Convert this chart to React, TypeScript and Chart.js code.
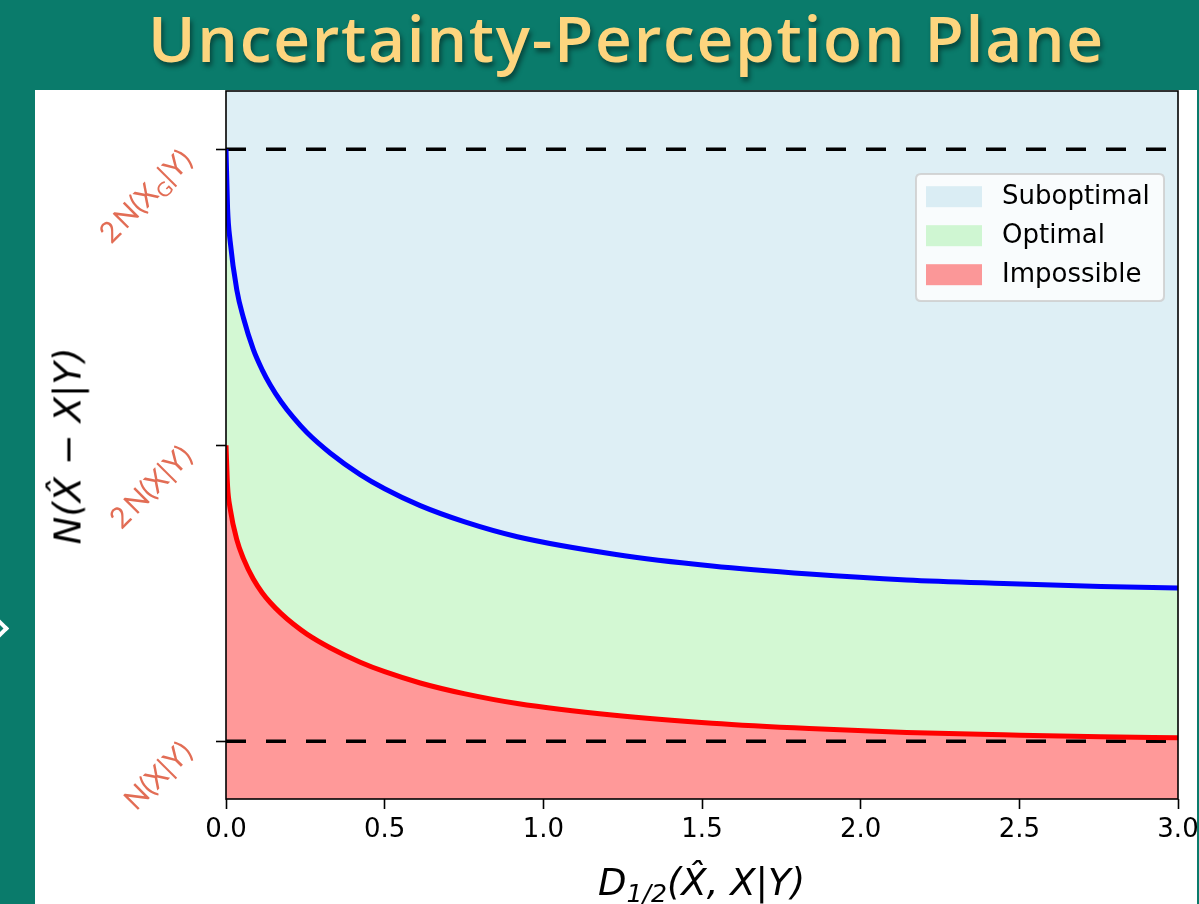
import React, { useEffect, useRef } from 'react';
import { Chart, registerables } from 'chart.js';

Chart.register(...registerables);

// ---- data ----
const xValues = [0, 0.005, 0.013, 0.034, 0.055, 0.086, 0.114, 0.14, 0.173, 0.212, 0.255, 0.328, 0.423, 0.5, 0.612, 0.75, 0.918, 1.224, 1.532, 1.838, 2.145, 2.45, 2.757, 3.0];
const optimalBoundary = [3.0, 2.8, 2.69, 2.525, 2.43, 2.324, 2.255, 2.203, 2.148, 2.094, 2.043, 1.974, 1.901, 1.853, 1.796, 1.742, 1.691, 1.632, 1.592, 1.565, 1.545, 1.533, 1.523, 1.518];
const impossibleBoundary = [2.0, 1.861, 1.787, 1.681, 1.617, 1.548, 1.502, 1.468, 1.432, 1.396, 1.362, 1.316, 1.267, 1.235, 1.197, 1.161, 1.1275, 1.088, 1.061, 1.043, 1.03, 1.022, 1.015, 1.012];
const dashedLevels = [3, 1];
const dashedSpan = [0, 3];

const xTickValues = [0, 0.5, 1, 1.5, 2, 2.5, 3];
const xTickLabels = ['0.0', '0.5', '1.0', '1.5', '2.0', '2.5', '3.0'];
const yTickValues = [1, 2, 3];
const yTickLabels = [
  [{ t: 'N(X|Y)' }],
  [{ t: '2\u2009N(X|Y)' }],
  [{ t: '2\u2009N(X' }, { t: 'G', sub: true }, { t: '|Y)' }],
];

const legendLabels = ['Suboptimal', 'Optimal', 'Impossible'];
const legendSwatches = ['rgba(173,216,230,0.4)', 'rgba(144,238,144,0.4)', 'rgba(255,0,0,0.4)'];

const TEAL = '#0a7b6b';

const decorPlugin = {
  id: 'decor',
  afterDatasetsDraw(chart: any) {
    const { ctx, chartArea: a, scales } = chart;
    ctx.save();
    // frame
    ctx.strokeStyle = '#000';
    ctx.lineWidth = 1.6;
    ctx.strokeRect(a.left, a.top, a.right - a.left, a.bottom - a.top);

    // rotated y tick labels
    const size = 29;
    const main = `400 ${size}px Lato, "DejaVu Sans", sans-serif`;
    const sub = `400 ${Math.round(size * 0.7)}px Lato, "DejaVu Sans", sans-serif`;
    ctx.fillStyle = '#e26d55';
    ctx.textBaseline = 'alphabetic';
    ctx.textAlign = 'left';
    yTickValues.forEach((v, i) => {
      const parts = yTickLabels[i];
      const widths = parts.map((p: any) => {
        ctx.font = p.sub ? sub : main;
        return ctx.measureText(p.t).width;
      });
      const W = widths.reduce((s: number, w: number) => s + w, 0);
      const asc = size * 0.76;
      const desc = size * 0.2;
      const R = a.left - 28;
      const T = scales.y.getPixelForValue(v) - 3;
      const ex = R - 0.7071 * desc;
      const ey = T + 0.7071 * asc;
      ctx.save();
      ctx.translate(ex, ey);
      ctx.rotate(-Math.PI / 4);
      let x = -W;
      parts.forEach((p: any, k: number) => {
        ctx.font = p.sub ? sub : main;
        ctx.fillText(p.t, x, p.sub ? size * 0.2 : 0);
        x += widths[k];
      });
      ctx.restore();
    });

    // legend
    const bw = 248, bh = 127;
    const bx = a.right - 14 - bw;
    const by = a.top + 83;
    const r = 5;
    ctx.beginPath();
    ctx.moveTo(bx + r, by);
    ctx.lineTo(bx + bw - r, by);
    ctx.quadraticCurveTo(bx + bw, by, bx + bw, by + r);
    ctx.lineTo(bx + bw, by + bh - r);
    ctx.quadraticCurveTo(bx + bw, by + bh, bx + bw - r, by + bh);
    ctx.lineTo(bx + r, by + bh);
    ctx.quadraticCurveTo(bx, by + bh, bx, by + bh - r);
    ctx.lineTo(bx, by + r);
    ctx.quadraticCurveTo(bx, by, bx + r, by);
    ctx.closePath();
    ctx.fillStyle = 'rgba(255,255,255,0.8)';
    ctx.fill();
    ctx.strokeStyle = 'rgba(204,204,204,0.8)';
    ctx.lineWidth = 2;
    ctx.stroke();
    ctx.font = '26px "DejaVu Sans", sans-serif';
    ctx.textBaseline = 'middle';
    legendLabels.forEach((lab, i) => {
      const cy = by + 22.7 + i * 39;
      ctx.fillStyle = legendSwatches[i];
      ctx.fillRect(bx + 10, cy - 10.5, 56, 21);
      ctx.fillStyle = '#000';
      ctx.fillText(lab, bx + 86, cy + 1);
    });
    ctx.restore();
  },
};

export default function App() {
  const canvasRef = useRef<HTMLCanvasElement | null>(null);

  useEffect(() => {
    document.body.style.margin = '0';
    const pts = (ys: number[]) => xValues.map((x, i) => ({ x, y: ys[i] }));
    const common = { pointRadius: 0, pointHoverRadius: 0, cubicInterpolationMode: 'monotone', clip: 0 };
    const chart = new Chart(canvasRef.current as HTMLCanvasElement, {
      type: 'line',
      data: {
        datasets: [
          {
            ...common,
            label: 'Impossible',
            data: pts(impossibleBoundary),
            borderColor: '#ff0000',
            borderWidth: 5,
            backgroundColor: '#ff9999',
            fill: 'start',
          },
          {
            ...common,
            label: 'Optimal',
            data: pts(optimalBoundary),
            borderColor: '#0000ff',
            borderWidth: 5,
            backgroundColor: '#d3f8d3',
            fill: 0,
          },
          {
            ...common,
            label: 'Suboptimal',
            data: pts(optimalBoundary),
            borderColor: 'transparent',
            borderWidth: 0,
            backgroundColor: '#deeff5',
            fill: 'end',
          },
          ...dashedLevels.map((lv) => ({
            ...common,
            label: 'ref',
            data: dashedSpan.map((x) => ({ x, y: lv })),
            borderColor: '#000',
            borderWidth: 3.5,
            borderDash: [20, 20],
            fill: false,
          })),
        ] as any,
      },
      options: {
        responsive: false,
        animation: false,
        events: [],
        layout: { padding: { top: 1, right: 19, left: 0, bottom: 0 } },
        plugins: {
          legend: { display: false },
          tooltip: { enabled: false },
          filler: { drawTime: 'beforeDatasetsDraw' },
        } as any,
        scales: {
          x: {
            type: 'linear',
            min: 0,
            max: 3,
            afterBuildTicks: (s: any) => {
              s.ticks = xTickValues.map((v) => ({ value: v }));
            },
            afterFit: (s: any) => {
              s.height = 105;
              s.paddingLeft = 0;
              s.paddingRight = 0;
            },
            ticks: {
              autoSkip: false,
              maxRotation: 0,
              minRotation: 0,
              padding: 6,
              color: '#000',
              font: { family: 'DejaVu Sans', size: 26 },
              callback: (_v: any, i: number) => xTickLabels[i],
            },
            grid: { drawOnChartArea: false, drawTicks: true, tickLength: 10, tickWidth: 1.6, tickColor: '#000', color: '#000' },
            border: { display: false },
          },
          y: {
            type: 'linear',
            min: 0.805,
            max: 3.197,
            afterBuildTicks: (s: any) => {
              s.ticks = yTickValues.map((v) => ({ value: v }));
            },
            afterFit: (s: any) => {
              s.width = 191;
              s.paddingTop = 0;
              s.paddingBottom = 0;
            },
            ticks: { display: false },
            grid: { drawOnChartArea: false, drawTicks: true, tickLength: 10, tickWidth: 1.6, tickColor: '#000', color: '#000' },
            border: { display: false },
          },
        },
      } as any,
      plugins: [decorPlugin],
    });
    return () => chart.destroy();
  }, []);

  return (
    <div style={{ position: 'relative', width: 1199, height: 904, background: TEAL, overflow: 'hidden' }}>
      <div
        style={{
          position: 'absolute',
          top: 6,
          left: 54,
          right: 0,
          textAlign: 'center',
          font: '600 64px "Open Sans", sans-serif',
          lineHeight: '64px',
          letterSpacing: '1.7px',
          color: '#fdd57e',
          textShadow: '2px 4px 5px rgba(0,0,0,0.45)',
          whiteSpace: 'nowrap',
        }}
      >
        Uncertainty-Perception Plane
      </div>
      <div
        style={{
          position: 'absolute',
          left: -9,
          top: 621,
          width: 11,
          height: 11,
          borderRight: '4px solid #fff',
          borderBottom: '4px solid #fff',
          transform: 'rotate(-45deg)',
        }}
      />
      <div style={{ position: 'absolute', left: 35, top: 90, width: 1162, height: 814, background: '#fff' }} />
      <canvas ref={canvasRef} width={1162} height={814} style={{ position: 'absolute', left: 35, top: 90 }} />
      <div
        style={{
          position: 'absolute',
          left: 68,
          top: 446,
          transform: 'translate(-50%,-50%) rotate(-90deg)',
          whiteSpace: 'nowrap',
          font: 'italic 37px "DejaVu Sans", sans-serif',
          lineHeight: '37px',
          color: '#000',
        }}
      >
        N(X{'\u0302'} − X|Y)
      </div>
      <div
        style={{
          position: 'absolute',
          left: 701.5,
          top: 864,
          transform: 'translateX(-50%)',
          whiteSpace: 'nowrap',
          font: 'italic 37px "DejaVu Sans", sans-serif',
          lineHeight: '37px',
          color: '#000',
        }}
      >
        D<span style={{ fontSize: '0.68em', position: 'relative', top: '0.28em', lineHeight: 0 }}>1/2</span>(X{'\u0302'}, X|Y)
      </div>
    </div>
  );
}
